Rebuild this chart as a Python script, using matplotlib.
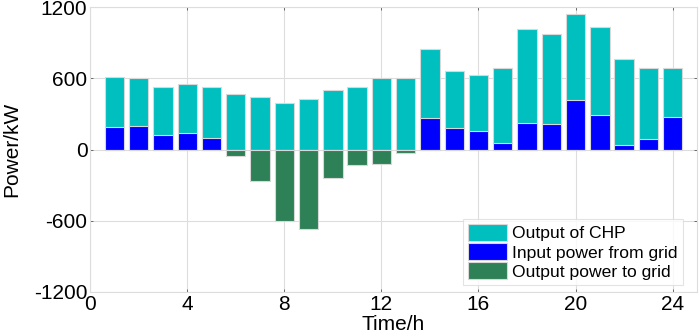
import numpy as np
import matplotlib.pyplot as plt

plt.rcParams['font.family'] = ['Liberation Sans', 'DejaVu Sans']
plt.rcParams['axes.unicode_minus'] = False

hours = np.arange(1, 25)
chp_total = [611, 600, 524, 550, 524, 471, 446, 395, 426, 505, 524, 600,
             600, 844, 664, 625, 684, 1012, 970, 1144, 1035, 763, 684, 684]
grid_in = [193, 202, 123, 143, 101, 0, 0, 0, 0, 0, 0, 0,
           0, 266, 182, 154, 59, 227, 213, 415, 292, 39, 87, 272]
grid_out = [0, 0, 0, 0, 0, -51, -265, -606, -668, -239, -132, -126,
            -31, 0, 0, 0, 0, 0, 0, 0, 0, 0, 0, 0]

fig = plt.figure(figsize=(6.99, 3.36), dpi=100)
ax = fig.add_axes([0.129, 0.131, 0.868, 0.848])

w = 0.8
ec = '#d8d8d8'
ax.bar(hours, chp_total, w, color='#00BFBF', edgecolor=ec, linewidth=0.8, label='Output of CHP', zorder=3)
ax.bar(hours, grid_in, w, color='#0000FF', edgecolor=ec, linewidth=0.8, label='Input power from grid', zorder=3)
ax.bar(hours, grid_out, w, color='#2E8056', edgecolor=ec, linewidth=0.8, label='Output power to grid', zorder=3)

ax.set_xlim(0, 25)
ax.set_ylim(-1200, 1200)
ax.set_xticks(range(0, 25, 4))
ax.set_yticks(range(-1200, 1201, 600))
ax.grid(True, color='#dddddd', linewidth=0.8, zorder=0)
ax.tick_params(direction='in', length=2, width=0.6, color='#555555',
               labelsize=15, top=True, right=True, pad=2)
for s in ax.spines.values():
    s.set_color('#dddddd')
    s.set_linewidth(0.8)

ax.set_xlabel('Time/h', fontsize=15, labelpad=1)
ax.set_ylabel('Power/kW', fontsize=15, labelpad=9)

leg = ax.legend(loc='lower right', bbox_to_anchor=(0.977, 0.025), fontsize=12.6,
                frameon=True, fancybox=False, edgecolor='#dddddd',
                handlelength=2.2, handleheight=1.1, labelspacing=0.1,
                borderpad=0.3, handletextpad=0.3, borderaxespad=0.0)
leg.get_frame().set_linewidth(0.8)

fig.savefig('out.png', dpi=100)
